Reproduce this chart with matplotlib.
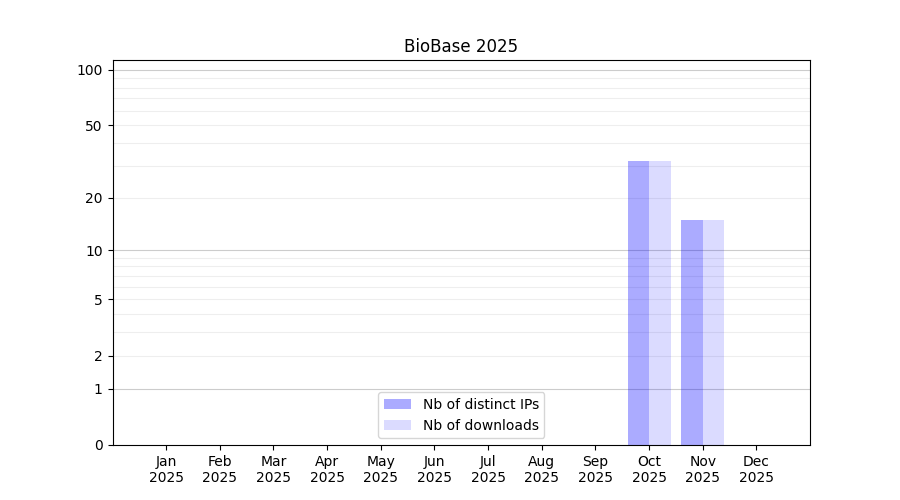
import numpy as np
import matplotlib
matplotlib.use('Agg')
import matplotlib.pyplot as plt

months = ["Jan", "Feb", "Mar", "Apr", "May", "Jun",
          "Jul", "Aug", "Sep", "Oct", "Nov", "Dec"]
year = 2025
distinct_ips = [0, 0, 0, 0, 0, 0, 0, 0, 0, 32, 15, 0]
downloads = [0, 0, 0, 0, 0, 0, 0, 0, 0, 32, 15, 0]

ytick_vals = [0, 1, 2, 5, 10, 20, 50, 100]


def fwd(y):
    return np.log10(1 + np.clip(y, 0, None))


def inv(y):
    return 10 ** y - 1


fig, ax = plt.subplots(figsize=(9, 5), dpi=100)
x = np.arange(1, len(months) + 1)

ax.set_yscale('function', functions=(fwd, inv))

# grid: darker at decades, light everywhere else
for v in [1, 10, 100]:
    ax.axhline(v, color='#cccccc', lw=0.8, zorder=0)
for v in list(range(2, 10)) + list(range(20, 100, 10)):
    ax.axhline(v, color='#eeeeee', lw=0.8, zorder=0)

ax.bar(x, distinct_ips, width=-0.4, align='edge', color='blue', alpha=0.33,
       label='Nb of distinct IPs', zorder=2)
ax.bar(x, downloads, width=0.4, align='edge', color='blue', alpha=0.14,
       label='Nb of downloads', zorder=2)

ax.set_xlim(0, 13)
ax.set_ylim(0, 113)
ax.set_xticks(x)
ax.set_xticklabels([f"{m}\n{year}" for m in months])
ax.set_yticks(ytick_vals)
ax.set_yticklabels([str(v) for v in ytick_vals])
ax.yaxis.set_minor_locator(matplotlib.ticker.NullLocator())

ax.set_title("BioBase 2025")
ax.legend(loc='lower center')

fig.savefig("out.png")
